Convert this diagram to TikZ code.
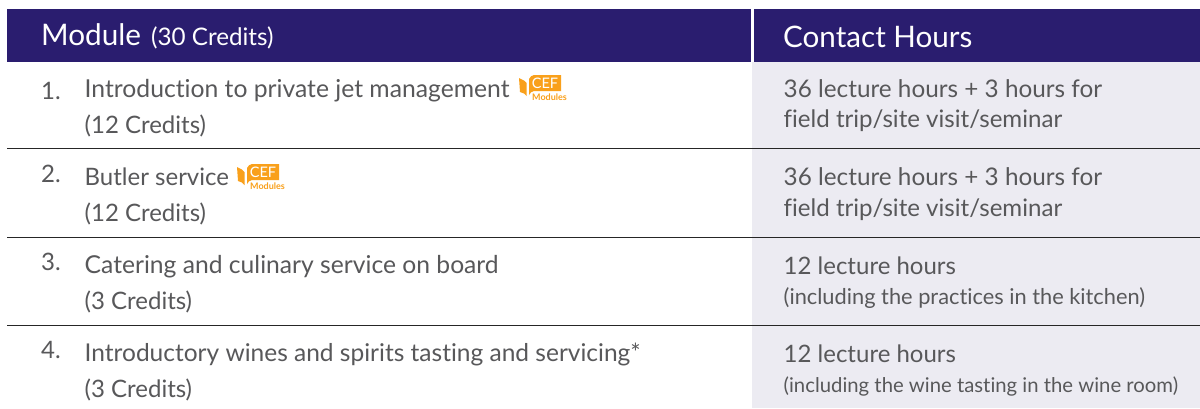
\documentclass[tikz,border=0pt]{standalone}
\usepackage{fontspec}
\setmainfont{Lato}[Ligatures=NoCommon]
\definecolor{hdrc}{HTML}{2A1D6F}
\definecolor{greyc}{HTML}{ECEBF2}
\definecolor{txtc}{HTML}{58585A}
\definecolor{cefc}{HTML}{F9A01B}
\newcommand{\cefmark}[2]{%
 \begin{scope}[shift={(#1,#2)}]
  \fill[cefc] (0,0) -- (5,2.5) -- (7.5,5) -- (7.5,18) -- (5,15.5) -- (1,14) -- cycle;
  \fill[cefc] (10,17) .. controls (11,15) and (13,13) .. (15,13) -- (42,13) -- (42,-3) -- (15,-3) .. controls (13,-3) and (11,-1) .. (10,1) -- cycle;
  \node[cefa] (c#1) at (26,5) {CEF};
  \node[cefb] (m#1) at (30.5,19.5) {Modules};
 \end{scope}}
\newcommand{\fs}[1]{\fontsize{#1}{#1}\selectfont}
\tikzset{
 x=1pt,y=-1pt,
 lab/.style={anchor=base west,inner sep=0pt},
 hd/.style={lab,text=white},
 body/.style={lab,text=txtc},
 rulel/.style={draw=black!85,line width=1pt},
 cefa/.style={text=white,inner sep=0pt,font=\fs{14.5}},
 cefb/.style={text=cefc,inner sep=0pt,font=\bfseries\fs{9}},
}
\begin{document}
\begin{tikzpicture}
\useasboundingbox (0,0) rectangle (1200,408);
\fill[white] (0,0) rectangle (1200,408);
\fill[greyc] (752,62) rectangle (1200,408);
\fill[hdrc] (7,9) rectangle (751,62);
\fill[hdrc] (754,9) rectangle (1200,62);
\draw[rulel] (7,148.5) -- (1200,148.5);
\draw[rulel] (7,237.5) -- (1200,237.5);
\draw[rulel] (7,325.5) -- (1200,325.5);
\node[hd,font=\fs{29.7}] (h1) at (41,45) {Module};
\node[hd,font=\fs{24.2}] (h1b) at (151,45) {(30 Credits)};
\node[hd,font=\fs{29.6}] (h2) at (783,47) {Contact Hours};
\node[body,font=\fs{24}] (n1) at (41,99) {1.};
\node[body,font=\fs{24.7}] (t1) at (84.5,97) {Introduction to private jet management};
\node[body,font=\fs{24}] (c1) at (84.5,133) {(12 Credits)};
\node[body,font=\fs{24}] (n2) at (41,182) {2.};
\node[body,font=\fs{24}] (t2) at (84.5,185) {Butler service};
\node[body,font=\fs{24}] (c2) at (84.5,221) {(12 Credits)};
\node[body,font=\fs{24}] (n3) at (41,270) {3.};
\node[body,font=\fs{24.65}] (t3) at (84.5,273) {Catering and culinary service on board};
\node[body,font=\fs{24}] (c3) at (84.5,309) {(3 Credits)};
\node[body,font=\fs{24}] (n4) at (41,358) {4.};
\node[body,font=\fs{24.5}] (t4) at (84.5,361) {Introductory wines and spirits tasting and servicing*};
\node[body,font=\fs{24}] (c4) at (84.5,397) {(3 Credits)};
\node[body,font=\fs{24.3}] (r1a) at (783.5,97) {36 lecture hours + 3 hours for};
\node[body,font=\fs{24.1}] (r1b) at (783.5,127) {field trip/site visit/seminar};
\node[body,font=\fs{24.3}] (r2a) at (783.5,185) {36 lecture hours + 3 hours for};
\node[body,font=\fs{24.1}] (r2b) at (783.5,216) {field trip/site visit/seminar};
\node[body,font=\fs{24}] (r3a) at (783.5,274) {12 lecture hours};
\node[body,font=\fs{21.8}] (r3b) at (783.5,304) {(including the practices in the kitchen)};
\node[body,font=\fs{24}] (r4a) at (783.5,362) {12 lecture hours};
\node[body,font=\fs{20.3}] (r4b) at (783.5,392) {(including the wine tasting in the wine room)};
\cefmark{519}{78}
\cefmark{237}{167}
\end{tikzpicture}
\end{document}
